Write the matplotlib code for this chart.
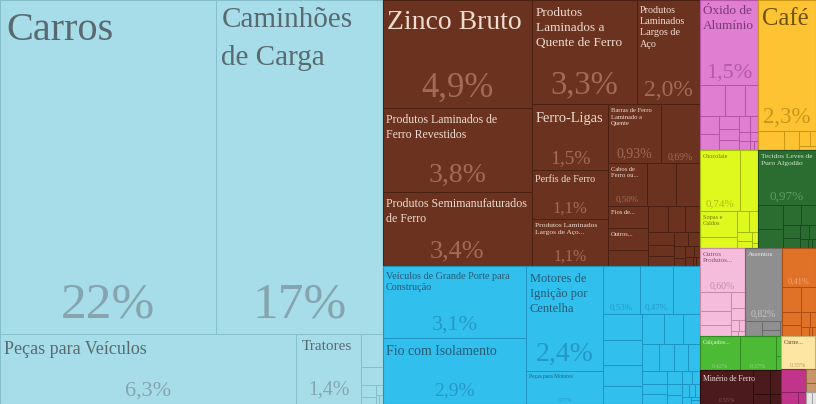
import matplotlib
matplotlib.use("Agg")
import matplotlib.pyplot as plt
from matplotlib.patches import Rectangle

plt.rcParams['font.family'] = ['Liberation Serif', 'DejaVu Serif']

# ---------------- data: share of exports (%) ----------------
transport_names = ["Carros", "Caminhões\nde Carga", "Peças para Veículos", "Tratores",
                   "", "", "", "", "", "", ""]
transport_values = [21.9, 16.8, 6.3, 1.4, 0.21, 0.12, 0.05, 0.03, 0.02, 0.01, 0.01]

metals_names = ["Zinco Bruto", "Produtos Laminados de\nFerro Revestidos",
                "Produtos Semimanufaturados\nde Ferro", "Produtos\nLaminados a\nQuente de Ferro",
                "Produtos\nLaminados\nLargos de\nAço", "Ferro-Ligas", "Perfis de Ferro",
                "Produtos Laminados\nLargos de Aço...", "Barras de Ferro\nLaminado a\nQuente", "",
                "Cabos de\nFerro ou...", "", "", "Fios de...", "Outros...",
                "", "", "", "", "", "", "", "", "", "", "", "", "", "", "", ""]
metals_values = [4.9, 3.8, 3.4, 3.3, 2.0, 1.5, 1.14, 1.09, 0.93, 0.69,
                 0.50, 0.38, 0.31, 0.27, 0.26,
                 0.2, 0.16, 0.14, 0.12, 0.1, 0.09, 0.08, 0.06, 0.05, 0.04,
                 0.03, 0.03, 0.02, 0.02, 0.01, 0.01]

machines_names = ["Veículos de Grande Porte para\nConstrução", "Fio com Isolamento",
                  "Motores de\nIgnição por\nCentelha", "Peças para Motores", "", "", ""] + [""] * 25
machines_values = [3.1, 2.9, 2.4, 0.77, 0.53, 0.47, 0.39,
                   0.32, 0.3, 0.25, 0.22, 0.2, 0.18, 0.16, 0.14, 0.12, 0.11, 0.1,
                   0.09, 0.08, 0.07, 0.06, 0.05, 0.04, 0.04, 0.03, 0.03, 0.02,
                   0.02, 0.02, 0.01, 0.01]

chem_names = ["Óxido de\nAlumínio"] + [""] * 15
chem_values = [1.5, 0.24, 0.19, 0.12, 0.1, 0.09, 0.08, 0.07, 0.06, 0.05,
               0.04, 0.03, 0.03, 0.02, 0.01, 0.01]

veg_names = ["Café", "", "", "", "", ""]
veg_values = [2.3, 0.15, 0.09, 0.05, 0.03, 0.02]

food_names = ["Chocolate", "", "Sopas e\nCaldos", "", "", "", "", "", "", ""]
food_values = [0.74, 0.33, 0.29, 0.12, 0.08, 0.06, 0.04, 0.03, 0.02, 0.01]

textile_names = ["Tecidos Leves de\nPuro Algodão"] + [""] * 11
textile_values = [0.97, 0.18, 0.14, 0.11, 0.09, 0.07, 0.05, 0.04, 0.03, 0.02, 0.01, 0.01]

instr_names = ["Outros\nProdutos..."] + [""] * 9
instr_values = [0.60, 0.18, 0.13, 0.1, 0.07, 0.05, 0.03, 0.02, 0.01, 0.01]

furniture_names = ["Assentos", "", "", "", ""]
furniture_values = [0.82, 0.08, 0.05, 0.03, 0.01]

plastics_names = [""] * 10
plastics_values = [0.41, 0.14, 0.11, 0.08, 0.06, 0.04, 0.03, 0.02, 0.01, 0.01]

footwear_names = ["Calçados...", "", "", ""]
footwear_values = [0.42, 0.37, 0.03, 0.02]

minerals_names = ["Minério de Ferro", "", "", "", ""]
minerals_values = [0.55, 0.12, 0.08, 0.05, 0.03]

animal_names = ["Carne...", ""]
animal_values = [0.35, 0.01]

stone_names = ["", "", ""]
stone_values = [0.18, 0.06, 0.03]

wood_names = ["", ""]
wood_values = [0.04, 0.025]

misc_names = ["", ""]
misc_values = [0.02, 0.015]

groups = {
    "transport": (transport_names, transport_values),
    "metals": (metals_names, metals_values),
    "machines": (machines_names, machines_values),
    "chem": (chem_names, chem_values),
    "veg": (veg_names, veg_values),
    "food": (food_names, food_values),
    "textile": (textile_names, textile_values),
    "instr": (instr_names, instr_values),
    "furniture": (furniture_names, furniture_values),
    "plastics": (plastics_names, plastics_values),
    "footwear": (footwear_names, footwear_values),
    "minerals": (minerals_names, minerals_values),
    "animal": (animal_names, animal_values),
    "stone": (stone_names, stone_values),
    "wood": (wood_names, wood_values),
    "misc": (misc_names, misc_values),
}

# ---------------- styles ----------------
# fill, edge, name colour, share colour
group_style = {
    "transport": ('#a7dde8', '#86bfcc', '#586a70', '#86a4ae'),
    "metals": ('#6b331f', '#4a2013', '#eedcd2', '#a26b56'),
    "machines": ('#31bfee', '#1e95c2', '#285a72', '#2698c5'),
    "chem": ('#e07fd1', '#b456a5', '#7c3775', '#b45aa9'),
    "veg": ('#fec332', '#cc9618', '#6e520a', '#c8961c'),
    "food": ('#dff91f', '#a0b80f', '#6c7a08', '#aac412'),
    "textile": ('#2b6d30', '#1a4a1e', '#d4e4d4', '#5c9a62'),
    "instr": ('#f6bcdb', '#c88aa9', '#7a5668', '#c08ea8'),
    "furniture": ('#8f8f8f', '#6a6a6a', '#eeeeee', '#c4c4c4'),
    "plastics": ('#df7227', '#a94f15', '#f6d0b0', '#f0a878'),
    "footwear": ('#4cba35', '#2f8a20', '#e6f3df', '#8cd67a'),
    "minerals": ('#4a1a1d', '#2c0b0d', '#f0e2e2', '#7c4c4e'),
    "animal": ('#fde5a3', '#c8b070', '#5b4c24', '#b0a070'),
    "stone": ('#c0358b', '#8a1f62', '#ffffff', '#ffffff'),
    "wood": ('#c9966b', '#946640', '#ffffff', '#ffffff'),
    "misc": ('#e6e6e6', '#a0a0a0', '#ffffff', '#ffffff'),
}

# (group, index): (name font pt or None, share font pt or None, extra options)
label_style = {
    ("transport", 0): (29, 37, {"top": 12}),
    ("transport", 1): (21, 37, {"top": 7, "ls": 1.6}),
    ("transport", 2): (13, 16, {"bot": 8, "top": 7}),
    ("transport", 3): (11, 14.4, {"bot": 9, "top": 6, "lx": 6}),
    ("metals", 0): (20, 25, {"top": 10}),
    ("metals", 1): (8.5, 20, {}),
    ("metals", 2): (8.6, 19, {}),
    ("metals", 3): (9.5, 23.5, {}),
    ("metals", 4): (7.3, 17, {}),
    ("metals", 5): (10.4, 14, {}),
    ("metals", 6): (7.3, 12, {}),
    ("metals", 7): (5.4, 11.5, {}),
    ("metals", 8): (4.7, 10, {}),
    ("metals", 9): (None, 7, {}),
    ("metals", 10): (4.7, 6.5, {}),
    ("metals", 13): (4.7, None, {}),
    ("metals", 14): (4.7, None, {}),
    ("machines", 0): (7.3, 16, {}),
    ("machines", 1): (10, 14, {"bot": 9}),
    ("machines", 2): (9, 20, {"bot": 10}),
    ("machines", 3): (4, 4, {}),
    ("machines", 4): (None, 6.5, {}),
    ("machines", 5): (None, 6.5, {}),
    ("chem", 0): (9.5, 16, {"top": 5}),
    ("veg", 0): (17.7, 16.5, {"top": 8}),
    ("food", 0): (4.5, 8, {}),
    ("food", 2): (4.5, None, {}),
    ("textile", 0): (5.4, 9.5, {}),
    ("instr", 0): (5, 7, {}),
    ("furniture", 0): (5, 7, {}),
    ("plastics", 0): (None, 6, {}),
    ("footwear", 0): (4.5, 4.5, {}),
    ("footwear", 1): (None, 4.5, {}),
    ("minerals", 0): (5.5, 4.5, {}),
    ("animal", 0): (4.5, 4.5, {}),
}

W, H = 816, 404
PHI = (1 + 5 ** 0.5) / 2


def squarify(values, x0, y0, x1, y1, ratio=PHI):
    """d3-hierarchy treemapSquarify for values already sorted descending."""
    n = len(values)
    rects = [None] * n
    value = float(sum(values))
    i0 = i1 = 0
    while i0 < n:
        dx, dy = x1 - x0, y1 - y0
        sv = values[i1]
        i1 += 1
        mn = mx = sv
        alpha = max(dy / dx, dx / dy) / (value * ratio)
        beta = sv * sv * alpha
        min_ratio = max(mx / beta, beta / mn)
        while i1 < n:
            nv = values[i1]
            sv += nv
            mn = min(mn, nv)
            mx = max(mx, nv)
            beta = sv * sv * alpha
            new_ratio = max(mx / beta, beta / mn)
            if new_ratio > min_ratio:
                sv -= nv
                break
            min_ratio = new_ratio
            i1 += 1
        row = range(i0, i1)
        if dx < dy:
            yb = y0 + dy * sv / value if value else y1
            x = x0
            for i in row:
                w = (x1 - x0) * values[i] / sv
                rects[i] = (x, y0, x + w, yb)
                x += w
            y0 = yb
        else:
            xb = x0 + dx * sv / value if value else x1
            y = y0
            for i in row:
                h = (y1 - y0) * values[i] / sv
                rects[i] = (x0, y, xb, y + h)
                y += h
            x0 = xb
        value -= sv
        i0 = i1
    return rects


def fmt_share(v):
    if v >= 10:
        s = f"{v:.0f}"
    elif v >= 1:
        s = f"{v:.1f}"
    else:
        s = f"{v:.2f}"
    return s.replace(".", ",") + "%"


fig = plt.figure(figsize=(W / 100, H / 100), dpi=100)
ax = fig.add_axes([0, 0, 1, 1])
ax.set_xlim(0, W)
ax.set_ylim(H, 0)
ax.axis('off')

PT = 100 / 72.0  # px per pt

keys = sorted(groups, key=lambda k: -sum(groups[k][1]))
group_rects = squarify([sum(groups[k][1]) for k in keys], 0, 0, W, H)

for key, (gx0, gy0, gx1, gy1) in zip(keys, group_rects):
    names, vals = groups[key]
    order = sorted(range(len(vals)), key=lambda i: -vals[i])
    child = squarify([vals[i] for i in order], gx0, gy0, gx1, gy1)
    fill, edge, ncol, pcol = group_style[key]
    for idx, (cx0, cy0, cx1, cy1) in zip(order, child):
        ax.add_patch(Rectangle((cx0, cy0), cx1 - cx0, cy1 - cy0, facecolor=fill,
                               edgecolor=edge, linewidth=0.7))
        st = label_style.get((key, idx))
        if st is None:
            continue
        nfs, pfs, opt = st
        if nfs and names[idx]:
            em = nfs * PT
            top = opt.get("top", 0.45 * em + 1)
            lx = opt.get("lx", 2 + 0.1 * em)
            ax.text(cx0 + lx, cy0 + top, names[idx], fontsize=nfs, color=ncol,
                    ha='left', va='top', linespacing=opt.get("ls", 1.35))
        if pfs:
            em = pfs * PT
            bot = opt.get("bot", 0.3 * em + 1)
            ax.text((cx0 + cx1) / 2, cy1 - bot, fmt_share(vals[idx]), fontsize=pfs,
                    color=pcol, ha='center', va='baseline')
    ax.add_patch(Rectangle((gx0, gy0), gx1 - gx0, gy1 - gy0, facecolor='none',
                           edgecolor=edge, linewidth=0.8))

fig.savefig("out.png", dpi=100)
